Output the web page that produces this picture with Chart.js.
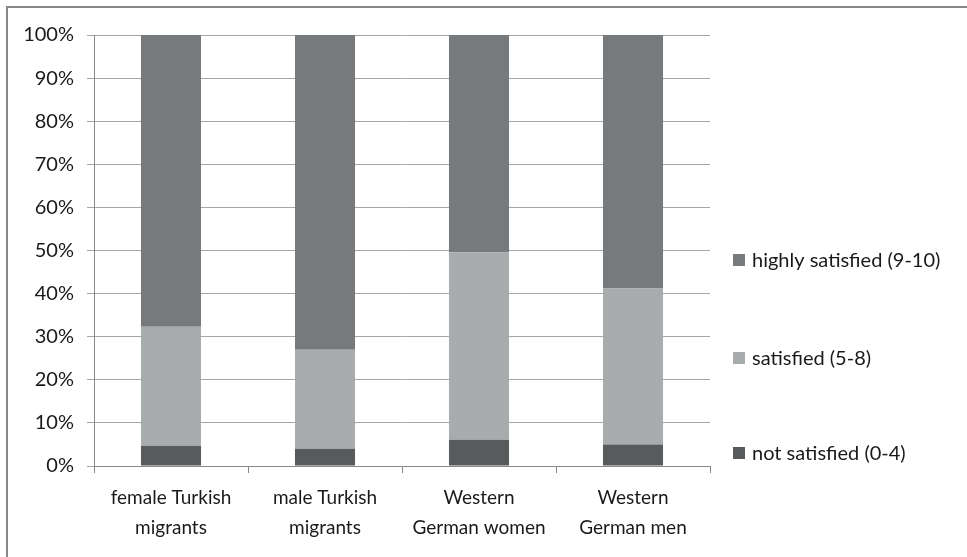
<!DOCTYPE html>
<html>
<head>
<meta charset="utf-8">
<script src="https://cdn.jsdelivr.net/npm/chart.js@4/dist/chart.umd.min.js"></script>
<style>
  html, body { margin: 0; padding: 0; background: #fff; }
  #wrap { width: 967px; height: 557px; }
</style>
</head>
<body>
<div id="wrap"><canvas id="chart" width="967" height="557"></canvas></div>
<script>
// satisfaction shares per group, in percent
const categories = [['female Turkish', 'migrants'], ['male Turkish', 'migrants'], ['Western', 'German women'], ['Western', 'German men']];
const notSatisfied = [4.7, 4.0, 6.1, 5.0];
const satisfied = [27.6, 23.0, 43.5, 36.2];
const highlySatisfied = [67.7, 73.0, 50.4, 58.8];
const seriesNames = ['not satisfied (0-4)', 'satisfied (5-8)', 'highly satisfied (9-10)'];
const seriesColors = ['#575b5c', '#a9acad', '#767a7c'];
const yTicks = [0, 10, 20, 30, 40, 50, 60, 70, 80, 90, 100];

const FONT = 'Lato, "Open Sans", sans-serif';
const TEXT = '#1a1a1a';

// grey frame round the top and left edge
const framePlugin = {
  id: 'frame',
  beforeDraw(chart) {
    const c = chart.ctx;
    c.save();
    c.strokeStyle = '#878787';
    c.lineWidth = 2;
    c.beginPath();
    c.moveTo(7, chart.height);
    c.lineTo(7, 7);
    c.lineTo(chart.width, 7);
    c.stroke();
    c.restore();
  }
};

// legend on the right, widely spaced, top item = top segment
const sideLegend = {
  id: 'sideLegend',
  afterDraw(chart) {
    const c = chart.ctx;
    const x = chart.chartArea.right + 23;
    const rows = [453, 358, 260];
    c.save();
    c.font = '20px ' + FONT;
    c.textBaseline = 'middle';
    chart.data.datasets.forEach((ds, i) => {
      const y = rows[i];
      c.fillStyle = ds.backgroundColor;
      c.fillRect(x, y - 6, 12, 12);
      c.fillStyle = TEXT;
      c.fillText(ds.label, x + 19, y + 1);
    });
    c.restore();
  }
};

const ctx = document.getElementById('chart').getContext('2d');

new Chart(ctx, {
  type: 'bar',
  data: {
    labels: categories,
    datasets: [
      { label: seriesNames[0], data: notSatisfied, backgroundColor: seriesColors[0] },
      { label: seriesNames[1], data: satisfied, backgroundColor: seriesColors[1] },
      { label: seriesNames[2], data: highlySatisfied, backgroundColor: seriesColors[2] }
    ]
  },
  options: {
    responsive: false,
    animation: false,
    layout: { padding: { top: 35, right: 257, bottom: 0, left: 0 } },
    datasets: {
      bar: { barPercentage: 0.39, categoryPercentage: 1, borderWidth: 0 }
    },
    plugins: {
      legend: { display: false },
      tooltip: { enabled: false }
    },
    scales: {
      x: {
        stacked: true,
        grid: { drawOnChartArea: false, drawTicks: true, tickLength: 7, color: '#888888', offset: true },
        border: { color: '#888888' },
        ticks: {
          color: TEXT,
          padding: 10,
          maxRotation: 0,
          autoSkip: false,
          font: { family: FONT, size: 19, lineHeight: 1.58 }
        },
        afterFit(scale) { scale.height = 91; }
      },
      y: {
        stacked: true,
        min: 0,
        max: 100,
        afterBuildTicks(scale) { scale.ticks = yTicks.map(v => ({ value: v })); },
        grid: { color: '#a6a6a6', tickLength: 7 },
        border: { color: '#888888' },
        ticks: {
          color: TEXT,
          padding: 13,
          font: { family: FONT, size: 20 },
          callback: v => v + '%'
        },
        afterFit(scale) { scale.width = 94; }
      }
    }
  },
  plugins: [framePlugin, sideLegend]
});
</script>
</body>
</html>
